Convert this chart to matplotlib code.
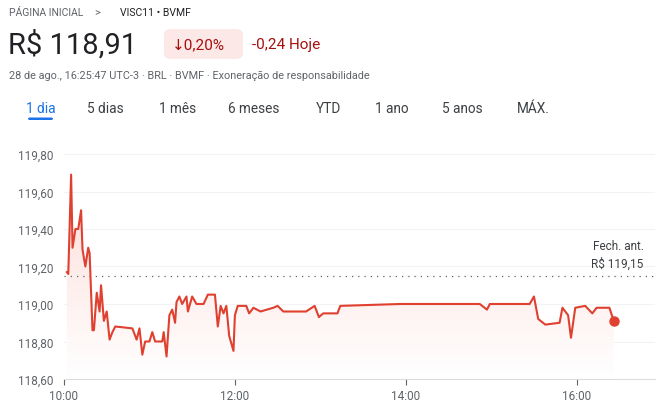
import numpy as np
import matplotlib.pyplot as plt
from matplotlib.patches import FancyBboxPatch, Polygon

# minutes after 10:00 and price (R$)
minutes = [2, 3, 5, 6, 8, 10, 12, 13, 15, 17, 18, 20, 21, 23, 25, 26, 28, 30, 32, 34, 36,
           48, 51, 53, 55, 57, 60, 62, 64, 69, 70, 72, 74, 76, 78, 79, 81, 83, 86, 87,
           90, 93, 98, 101, 106, 108, 110, 112, 114, 116, 119, 120, 122, 128, 130, 133,
           138, 147, 150, 154, 170, 176, 179, 182, 192, 194, 236, 292, 297, 299, 327,
           330, 333, 338, 348, 350, 354, 356, 359, 366, 371, 374, 383, 386]
prices = [119.17, 119.16, 119.69, 119.30, 119.40, 119.40, 119.50, 119.29, 119.20, 119.30,
          119.27, 118.86, 118.86, 119.06, 118.96, 119.10, 118.91, 118.96, 118.81, 118.85,
          118.88, 118.87, 118.81, 118.87, 118.73, 118.80, 118.80, 118.85, 118.80, 118.80,
          118.85, 118.72, 118.94, 118.97, 118.90, 119.01, 119.04, 119.00, 119.04, 118.96,
          119.04, 119.00, 119.00, 119.05, 119.05, 118.88, 118.99, 118.95, 118.99, 118.83,
          118.75, 118.94, 118.99, 118.99, 118.95, 118.98, 118.96, 118.98, 118.99, 118.96,
          118.96, 118.99, 118.93, 118.95, 118.95, 118.99, 119.00, 119.00, 118.97, 119.00,
          119.00, 119.04, 118.92, 118.89, 118.90, 118.98, 118.94, 118.82, 118.98, 118.99,
          118.95, 118.98, 118.98, 118.91]
prev_close = 119.15
yticks = [118.60, 118.80, 119.00, 119.20, 119.40, 119.60, 119.80]
xticks = [0, 120, 240, 360]
xlabels = ['10:00', '12:00', '14:00', '16:00']
tabs = ['1 dia', '5 dias', '1 mês', '6 meses', 'YTD', '1 ano', '5 anos', 'MÁX.']
tab_x = [26, 87, 159, 228, 316, 375, 442, 517]

plt.rcParams['font.family'] = ['Roboto', 'DejaVu Sans']
fig = plt.figure(figsize=(6.66, 4.14), dpi=100)
W, H = 666, 414

def ft(x, y, s, **kw):
    fig.text(x / W, 1 - y / H, s, va='center', **kw)

red = '#e0402f'
ft(9, 13, 'PÁGINA INICIAL', fontsize=7.5, color='#5f6368')
ft(94, 13, '>', fontsize=8, color='#5f6368')
ft(120, 13, 'VISC11 • BVMF', fontsize=7.5, color='#202124')
ft(8, 45, 'R$ 118,91', fontsize=21, color='#202124')
fig.patches.append(FancyBboxPatch((164 / W, 1 - 60 / H), 79 / W, 30 / H,
                                  boxstyle='round,pad=0,rounding_size=0.012',
                                  transform=fig.transFigure, fc='#fce8e6', ec='none'))
ft(172, 45, '↓0,20%', fontsize=11, color='#a50e0e')
ft(252, 45, '-0,24 Hoje', fontsize=11, color='#a50e0e')
ft(9, 76, '28 de ago., 16:25:47 UTC-3 · BRL · BVMF · Exoneração de responsabilidade',
   fontsize=7.8, color='#5f6368')
for t, x in zip(tabs, tab_x):
    ft(x, 109, t, fontsize=9.8, color='#1a73e8' if t == '1 dia' else '#3c4043')
fig.patches.append(FancyBboxPatch((28 / W, 1 - 121 / H), 25 / W, 2.5 / H,
                                  boxstyle='round,pad=0,rounding_size=0.003',
                                  transform=fig.transFigure, fc='#1a73e8', ec='none'))

ax = fig.add_axes([64 / W, 1 - 380 / H, 591 / W, 240 / H])
ax.set_xlim(0, 415)
ax.set_ylim(118.60, 119.88)
for s in ax.spines.values():
    s.set_visible(False)
ax.spines['bottom'].set_visible(True)
ax.spines['bottom'].set_color('#dadce0')
for y in yticks[1:]:
    ax.axhline(y, color='#f1f3f4', lw=0.8, zorder=0)

# gradient fill under the line
grad = np.linspace(0, 1, 100).reshape(-1, 1)
im = ax.imshow(grad, extent=[0, 415, 118.60, 119.70], aspect='auto', origin='lower',
               cmap=plt.matplotlib.colors.LinearSegmentedColormap.from_list('g', ['#ffffff', '#fcdcd8']),
               zorder=1)
poly = Polygon(list(zip(minutes, prices)) + [(minutes[-1], 118.60), (minutes[0], 118.60)],
               transform=ax.transData, fc='none', ec='none')
ax.add_patch(poly)
im.set_clip_path(poly)

ax.plot(minutes, prices, color=red, lw=1.5, zorder=3)
ax.plot(minutes[-1], prices[-1], 'o', color=red, ms=6.5, zorder=4)
ax.axhline(prev_close, color='#5f6368', lw=0.9, ls=(0, (1, 4)), zorder=2)
ax.text(407, 119.185, 'Fech. ant.\nR$ 119,15', ha='right', va='bottom', fontsize=8.5,
        color='#3c4043', linespacing=1.4)

ax.set_yticks(yticks)
ax.set_yticklabels([f'{v:.2f}'.replace('.', ',') for v in yticks])
ax.tick_params(axis='y', length=0, labelsize=8.5, labelcolor='#5f6368', pad=8)
ax.set_xticks(xticks)
ax.set_xticklabels(xlabels)
ax.tick_params(axis='x', length=4, color='#5f6368', labelsize=8.5, labelcolor='#5f6368')

fig.savefig('out.png', dpi=100)
